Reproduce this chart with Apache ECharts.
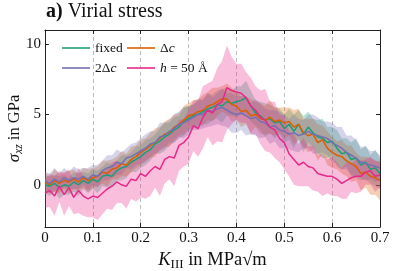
<!DOCTYPE html>
<html><head><meta charset="utf-8">
<script src="https://cdn.jsdelivr.net/npm/echarts@6/dist/echarts.min.js"></script>
<style>html,body{margin:0;padding:0;background:#fff}#c{width:395px;height:271px}</style>
</head><body><div id="c"></div>
<script>
// K_III sampling grid (MPa sqrt(m))
const kStart = 0, kStep = 0.01;
const xTicks = [0, 0.1, 0.2, 0.3, 0.4, 0.5, 0.6, 0.7];
const yTicks = [0, 5, 10];

// sigma_xz in GPa
const fixed = [0.0,-0.1,0.1,-0.2,0.0,-0.1,0.2,0.0,0.3,0.1,0.4,
 0.2,0.6,0.7,0.6,1.0,1.2,1.3,1.6,1.8,2.0,
 2.3,2.5,2.9,3.1,3.4,3.6,3.9,4.1,4.5,4.7,
 4.9,5.0,5.2,5.4,5.5,5.7,5.6,5.9,5.8,5.9,
 6.0,6.2,5.6,5.1,4.9,4.6,4.7,4.4,4.5,4.0,
 4.3,3.8,4.3,3.6,4.1,3.7,3.4,3.3,3.0,3.1,
 2.6,2.2,2.3,1.8,1.9,1.4,1.6,1.1,1.2,0.8];
const deltaC = [0.2,0.0,0.3,0.1,0.3,0.2,0.4,0.2,0.5,0.3,0.5,
 0.6,0.9,0.8,1.1,1.2,1.5,1.4,1.8,2.0,2.3,
 2.5,2.8,3.0,3.3,3.6,3.7,4.1,4.3,4.6,4.9,
 5.0,5.2,5.3,5.6,5.7,5.9,6.1,6.1,5.7,5.6,
 5.2,5.3,4.9,5.0,4.7,4.6,4.8,4.5,4.6,4.4,
 4.5,4.1,4.3,3.7,3.5,3.6,3.0,3.2,2.6,2.3,
 2.1,2.0,1.7,1.5,1.3,0.8,0.9,0.6,0.5,0.3];
const twoDeltaC = [0.3,0.1,0.4,0.2,0.5,0.3,0.5,0.4,0.6,0.4,0.7,
 0.6,1.0,1.2,1.3,1.6,1.5,1.9,2.0,2.2,2.4,
 2.6,2.9,3.0,3.4,3.5,3.8,4.0,4.3,4.4,4.6,
 4.8,5.0,5.0,5.3,5.2,5.4,5.5,5.3,5.1,5.0,
 5.1,4.9,4.7,4.8,4.5,4.4,4.1,4.2,3.9,3.8,
 3.6,3.7,3.5,3.6,3.8,3.6,3.5,3.4,3.3,3.0,
 2.8,2.6,2.3,2.1,1.9,1.6,1.5,1.4,1.3,1.2];
const h50 = [-0.6,-0.4,-0.8,-0.1,-0.7,-0.2,-0.9,-0.4,-0.8,-1.0,-0.8,
 -0.9,-0.6,-0.3,-0.1,0.2,0.0,-0.1,0.4,0.3,0.8,
 0.6,1.0,1.3,1.1,1.8,2.0,1.9,2.8,3.0,3.4,
 4.2,4.0,4.8,5.3,5.1,5.7,5.9,6.9,6.7,6.6,
 6.5,6.2,5.6,5.3,4.8,4.6,4.1,3.9,3.3,3.0,
 2.2,1.8,1.4,1.6,1.3,1.2,0.8,0.7,0.6,0.6,
 0.4,0.1,0.3,0.5,0.6,0.6,0.9,1.0,0.6,0.7];

// half-widths of the shaded bands
const fixedErr = [0.6,0.7,0.6,0.8,0.7,0.6,0.7,0.8,0.6,0.7,0.7,
 0.8,0.7,0.9,0.8,0.7,0.9,0.8,0.7,0.9,0.8,
 0.9,0.8,0.7,0.9,1.0,0.8,0.9,0.8,1.0,0.9,
 0.8,1.0,0.9,1.1,0.9,1.0,1.2,1.0,0.9,1.1,
 1.0,1.2,1.1,0.9,1.0,1.2,1.0,1.1,0.9,1.0,
 1.1,1.2,1.0,1.3,1.1,1.0,1.2,1.4,1.1,1.0,
 1.3,1.1,1.0,1.2,1.4,1.1,1.2,1.0,1.3,1.1];
const deltaCErr = [0.7,0.6,0.8,0.7,0.6,0.8,0.7,0.6,0.7,0.8,0.7,
 0.7,0.8,0.9,0.7,0.8,0.9,0.8,0.9,0.8,0.9,
 0.8,0.9,1.0,0.8,0.9,1.0,0.9,0.8,1.0,0.9,
 1.0,0.9,1.1,1.0,1.2,1.0,0.9,1.1,1.2,1.0,
 1.1,1.0,1.2,0.9,1.1,1.0,1.2,1.0,0.9,1.1,
 1.0,1.2,1.1,1.0,1.2,1.1,1.3,1.0,1.2,1.1,
 1.0,1.2,1.1,1.3,1.0,1.2,1.1,1.3,1.2,1.4];
const twoDeltaCErr = [0.6,0.7,0.8,0.6,0.7,0.6,0.8,0.7,0.6,0.8,0.7,
 0.8,0.7,0.9,0.8,0.9,0.8,0.7,0.9,0.8,0.9,
 1.0,0.9,0.8,1.0,0.9,0.8,1.0,0.9,1.1,1.0,
 0.9,1.1,1.0,1.2,1.0,1.1,1.3,1.2,1.4,1.3,
 1.2,1.4,1.1,1.3,1.2,1.0,1.2,1.1,1.3,1.2,
 1.1,1.3,1.2,1.0,1.2,1.4,1.3,1.1,1.2,1.4,
 1.3,1.5,1.2,1.4,1.3,1.1,1.2,1.0,1.1,0.9];
const h50Err = [1.0,1.2,1.4,1.1,1.5,1.3,1.2,1.6,1.4,1.3,1.5,
 1.6,1.5,1.4,1.7,1.5,1.3,1.6,1.4,1.5,1.7,
 1.6,1.8,1.5,1.9,1.7,1.6,2.0,1.8,1.7,1.9,
 1.8,2.0,2.2,1.9,2.3,2.6,2.9,3.0,2.4,2.0,
 2.1,1.8,2.0,1.7,1.9,2.2,1.8,2.0,1.7,1.9,
 1.6,1.8,1.5,1.7,1.4,1.6,1.3,1.5,1.2,1.4,
 1.2,1.1,1.3,1.0,1.2,1.1,0.9,1.0,1.1,0.9];

const names = ['fixed', 'Δc', '2Δc', 'h = 50 Å'];
const colors = ['#1b9e77', '#d95f02', '#7570b3', '#e7298a'];
const values = [fixed, deltaC, twoDeltaC, h50];
const errs = [fixedErr, deltaCErr, twoDeltaCErr, h50Err];
const legendLabels = ['{r|fixed}', '{r|Δ}{i|c}', '{r|2Δ}{i|c}', '{i|h}{r| = 50 Å}'];

const K = fixed.map((_, i) => +(kStart + i * kStep).toFixed(2));
const SERIF = '"Liberation Serif","DejaVu Serif",serif';
const TXT = '#111';
const AX = '#222';
const rich = {
  r: {fontFamily: SERIF, fontSize: 13.5, color: TXT},
  i: {fontFamily: SERIF, fontSize: 13.5, color: TXT, fontStyle: 'italic'},
  nr: {fontFamily: SERIF, fontSize: 18.5, color: TXT},
  ni: {fontFamily: SERIF, fontSize: 18.5, color: TXT, fontStyle: 'italic'},
  sub: {fontFamily: SERIF, fontSize: 13, color: TXT, padding: [8, 0, 0, 0]},
  yr: {fontFamily: SERIF, fontSize: 16.5, color: TXT},
  yi: {fontFamily: SERIF, fontSize: 17, color: TXT, fontStyle: 'italic'},
  isub: {fontFamily: SERIF, fontSize: 11.5, color: TXT, fontStyle: 'italic', padding: [8, 0, 0, 0]},
  b: {fontFamily: SERIF, fontSize: 20, color: TXT, fontWeight: 'bold'},
  t: {fontFamily: SERIF, fontSize: 20, color: TXT, fontWeight: 'normal'}
};

const series = [];
// shaded bands, drawn as polygons through the axis scales
values.forEach((vals, j) => {
  const err = errs[j];
  const upper = vals.map((v, i) => [K[i], v + err[i]]);
  const lower = vals.map((v, i) => [K[i], v - err[i]]);
  series.push({
    type: 'custom', silent: true, z: 1, clip: true,
    data: [[K[0], vals[0]]],
    renderItem: (params, api) => {
      const pts = upper.map(p => api.coord(p)).concat(lower.slice().reverse().map(p => api.coord(p)));
      return {type: 'polygon', shape: {points: pts},
        style: {fill: colors[j], opacity: 0.3, stroke: null}};
    }
  });
});
values.forEach((vals, j) => {
  series.push({type: 'line', name: names[j], symbol: 'none', z: 3,
    lineStyle: {color: colors[j], width: 1.5}, itemStyle: {color: colors[j]},
    data: vals.map((v, i) => [K[i], v])});
});

const legendPos = [[62, 41], [127, 41], [62, 61], [127, 61]];
const legend = names.map((n, j) => ({
  data: [n], left: legendPos[j][0], top: legendPos[j][1], icon: 'rect',
  itemWidth: 28, itemHeight: 1.6, padding: 0,
  formatter: () => legendLabels[j],
  textStyle: {fontFamily: SERIF, fontSize: 13.5, color: TXT, rich: rich}
}));

const axisLineStyle = {color: AX, width: 1};
const chart = echarts.init(document.getElementById('c'), null, {renderer: 'canvas'});
chart.setOption({
  animation: false,
  backgroundColor: '#fff',
  title: {text: '{b|a)}{t| Virial stress}', left: 46, top: 2, padding: 0,
    textStyle: {rich: rich, fontFamily: SERIF, fontSize: 20, fontWeight: 'normal'}},
  legend: legend,
  grid: {left: 45, right: 15, top: 30, bottom: 44, outerBoundsMode: 'none', containLabel: false},
  xAxis: [
    {type: 'value', min: 0, max: 0.7, interval: 0.1, position: 'bottom',
     axisLine: {show: true, onZero: false, lineStyle: axisLineStyle},
     axisTick: {show: true, inside: true, length: 4, lineStyle: axisLineStyle, customValues: xTicks},
     axisLabel: {margin: 4, fontFamily: SERIF, fontSize: 15, color: TXT, customValues: xTicks,
       formatter: v => v === 0 ? '0' : v.toFixed(1)},
     splitLine: {show: true, lineStyle: {type: [4, 3], color: '#bdbdbd', width: 1}},
     name: '{ni|K}{sub|III}{nr| in MPa√m}', nameLocation: 'middle', nameGap: 23, nameMoveOverlap: false,
     nameTextStyle: {rich: rich, fontSize: 18.5, fontFamily: SERIF}},
    {type: 'value', min: 0, max: 0.7, interval: 0.1, position: 'top',
     axisLine: {show: true, onZero: false, lineStyle: axisLineStyle},
     axisTick: {show: true, inside: true, length: 4, lineStyle: axisLineStyle, customValues: xTicks},
     axisLabel: {show: false}, splitLine: {show: false}}
  ],
  yAxis: [
    {type: 'value', min: -3, max: 11, position: 'left',
     axisLine: {show: true, onZero: false, lineStyle: axisLineStyle},
     axisTick: {show: true, inside: true, length: 4, lineStyle: axisLineStyle, customValues: yTicks},
     axisLabel: {margin: 4, fontFamily: SERIF, fontSize: 15, color: TXT, customValues: yTicks},
     splitLine: {show: false},
     name: '{yi|σ}{isub|xz}{yr| in GPa}', nameLocation: 'middle', nameGap: 20, nameRotate: 90,
     nameMoveOverlap: false,
     nameTextStyle: {rich: rich, fontSize: 16.5, fontFamily: SERIF}},
    {type: 'value', min: -3, max: 11, position: 'right',
     axisLine: {show: true, onZero: false, lineStyle: axisLineStyle},
     axisTick: {show: true, inside: true, length: 4, lineStyle: axisLineStyle, customValues: yTicks},
     axisLabel: {show: false}, splitLine: {show: false}}
  ],
  series: series
});
</script></body></html>
